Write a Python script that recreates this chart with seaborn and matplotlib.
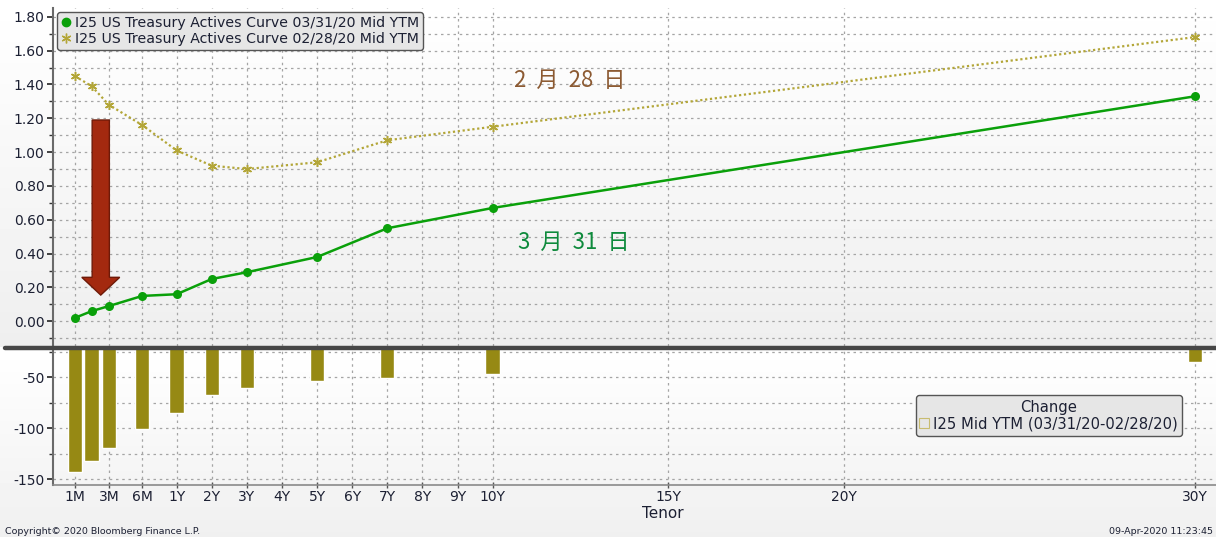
import numpy as np
import seaborn as sns
import matplotlib.pyplot as plt
from matplotlib.lines import Line2D
from matplotlib.patches import FancyArrow

# tenor points on the curve (x position on the Bloomberg tenor axis)
tenors = ["1M", "2M", "3M", "6M", "1Y", "2Y", "3Y", "5Y", "7Y", "10Y", "30Y"]
tenor_pos = [0.1, 0.58, 1.07, 2.02, 3, 4, 5, 7, 9, 12, 32]
ytm_0331 = [0.02, 0.06, 0.09, 0.15, 0.16, 0.25, 0.29, 0.38, 0.55, 0.67, 1.33]
ytm_0228 = [1.45, 1.39, 1.28, 1.16, 1.01, 0.92, 0.90, 0.94, 1.07, 1.15, 1.68]
change_bp = [-143, -132, -119, -101, -85, -67, -61, -54, -51, -47, -35]

tick_labels = ["1M", "3M", "6M", "1Y", "2Y", "3Y", "4Y", "5Y", "6Y", "7Y",
               "8Y", "9Y", "10Y", "15Y", "20Y", "30Y"]
tick_pos = [0.1, 1.07, 2.02, 3, 4, 5, 6, 7, 8, 9, 10, 11, 12, 17, 22, 32]

green = "#0aa00a"
olive = "#b3a638"
bar_col = "#968914"
grid_kw = dict(color="#a5a5a5", linestyle=(0, (2, 3)), linewidth=0.9)

sns.set_theme(style="white")
plt.rcParams["font.family"] = ["DejaVu Sans"]
plt.rcParams["axes.unicode_minus"] = False
W, H = 1216, 537
fig = plt.figure(figsize=(W / 100, H / 100), dpi=100, facecolor="#f0f0f0")

# soft vertical gradient behind both panels
bg = fig.add_axes([0, 0, 1, 1], zorder=-10)
bg.axis("off")
shade = np.concatenate([np.linspace(1.0, 0.935, 347), np.linspace(1.0, 0.94, H - 347)])
bg.imshow(shade[:, None], cmap="gray", vmin=0, vmax=1, aspect="auto", extent=[0, 1, 0, 1])

ax1 = fig.add_axes([53 / W, 1 - 346 / H, 1163 / W, 338 / H], facecolor="none")
ax2 = fig.add_axes([53 / W, 1 - 485 / H, 1163 / W, 136 / H], facecolor="none")

# top panel: the two curves
sns.lineplot(x=tenor_pos, y=ytm_0228, ax=ax1, color=olive, linestyle=(0, (1, 1.2)),
             linewidth=1.6, marker=(6, 2, 0), markersize=6.5, markeredgecolor=olive,
             markeredgewidth=1.1, sort=False, zorder=3)
sns.lineplot(x=tenor_pos, y=ytm_0331, ax=ax1, color=green, linewidth=1.8,
             marker="o", markersize=6.5, markeredgewidth=0, sort=False, zorder=4)

# bottom panel: change in bp
sns.barplot(x=tenor_pos, y=change_bp, ax=ax2, native_scale=True, orient="x",
            color=bar_col, saturation=1, width=0.85, errorbar=None, zorder=3)

xlim = (-0.52, 32.6)
for ax in (ax1, ax2):
    ax.set_xlim(*xlim)
    ax.set_xticks(tick_pos)
    ax.grid(False)
    ax.grid(True, axis="x", which="major", **grid_kw)
    ax.grid(True, axis="y", which="both", **grid_kw)
    ax.set_axisbelow(True)
    for s in ("top", "right", "bottom"):
        ax.spines[s].set_visible(False)
    ax.spines["left"].set_color("#6a6a6a")
    ax.spines["left"].set_linewidth(1.5)
    ax.tick_params(axis="y", which="major", direction="out", length=4, width=1.3,
                   color="#333333", labelsize=10, labelcolor="#1c2033", pad=2, left=True)
    ax.tick_params(axis="y", which="minor", direction="out", length=3, width=1,
                   color="#333333", left=True)
    ax.set_xlabel("")
    ax.set_ylabel("")

ax1.set_ylim(-0.146, 1.852)
ax1.set_yticks(np.arange(0, 1.81, 0.2))
ax1.set_yticks(np.arange(-0.1, 1.85, 0.1), minor=True)
ax1.set_yticklabels([f"{v:.2f}" for v in np.arange(0, 1.81, 0.2)])
ax1.tick_params(axis="x", length=0, labelbottom=False)

ax2.set_ylim(-155.6, -22.3)
ax2.set_yticks([-50, -100, -150])
ax2.set_yticks([-25, -75, -125], minor=True)
ax2.set_xticklabels(tick_labels)
ax2.spines["bottom"].set_visible(True)
ax2.spines["bottom"].set_color("#8a8a8a")
ax2.spines["bottom"].set_linewidth(1.2)
ax2.tick_params(axis="x", direction="inout", length=5, width=1, color="#555555",
                labelsize=10, labelcolor="#1c2033", pad=1, bottom=True)

# heavy separator between the panels
fig.add_artist(Line2D([5 / W, 1], [1 - 347.5 / H] * 2, transform=fig.transFigure,
                      color="#474747", linewidth=3.2))

# red arrow
ax1.add_patch(FancyArrow(0.84, 1.19, 0, 0.155 - 1.19, width=0.49, head_width=1.08,
                         head_length=0.105, length_includes_head=True,
                         facecolor="#a3290f", edgecolor="#6e1a08", linewidth=1, zorder=5))

cjk = ["Noto Sans CJK SC", "DejaVu Sans"]
ax1.text(14.2, 1.426, "2  月  28  日", color="#8c5a32", fontsize=16, family=cjk,
         ha="center", va="center")
ax1.text(14.3, 0.469, "3  月  31  日", color="#0e8a3c", fontsize=16, family=cjk,
         ha="center", va="center")

# legends
h1 = [Line2D([], [], marker="o", color=green, linestyle="none", markersize=6),
      Line2D([], [], marker=(6, 2, 0), color=olive, markeredgecolor=olive,
             linestyle="none", markersize=7)]
leg1 = ax1.legend(h1, ["I25 US Treasury Actives Curve 03/31/20 Mid YTM",
                       "I25 US Treasury Actives Curve 02/28/20 Mid YTM"],
                  loc="upper left", bbox_to_anchor=(57 / W, 1 - 12 / H),
                  bbox_transform=fig.transFigure, borderaxespad=0, fontsize=10.2,
                  handlelength=0.6, handletextpad=0.35, labelspacing=0.1,
                  borderpad=0.3, frameon=True, fancybox=True, framealpha=1,
                  facecolor="#e6e6e6", edgecolor="#555555")
for t in leg1.get_texts():
    t.set_color("#1c2033")

h2 = [Line2D([], [], marker="s", markerfacecolor="none", markeredgecolor="#c8bc70",
             linestyle="none", markersize=7, markeredgewidth=0.8)]
leg2 = ax2.legend(h2, ["I25 Mid YTM (03/31/20-02/28/20)"], title="Change",
                  loc="center", bbox_to_anchor=(1049 / W, 1 - 415.5 / H),
                  bbox_transform=fig.transFigure, fontsize=10.6, title_fontsize=10.6,
                  handlelength=0.6, handletextpad=0.3, borderpad=0.3, labelspacing=0.1,
                  frameon=True, fancybox=True, framealpha=1,
                  facecolor="#e6e6e6", edgecolor="#555555")
for t in leg2.get_texts():
    t.set_color("#1c2033")
leg2.get_title().set_color("#1c2033")

fig.text(663 / W, 1 - 514 / H, "Tenor", fontsize=11, color="#1c2033",
         ha="center", va="center")
fig.text(5 / W, 1 - 531 / H, "Copyright\u00a9 2020 Bloomberg Finance L.P.", fontsize=6.8,
         color="#1c2033", ha="left", va="center")
fig.text(1213 / W, 1 - 531 / H, "09-Apr-2020 11:23:45", fontsize=6.8,
         color="#1c2033", ha="right", va="center")

fig.savefig("out.png", dpi=100, facecolor=fig.get_facecolor())
